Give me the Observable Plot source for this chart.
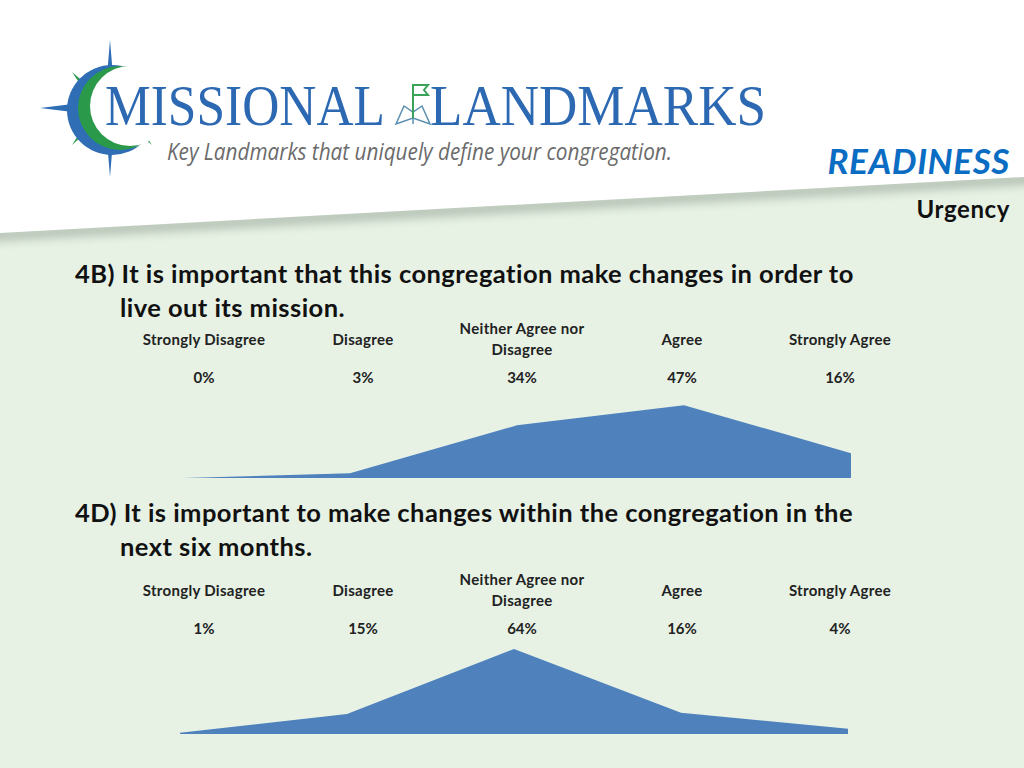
<!DOCTYPE html>
<html>
<head>
<meta charset="utf-8">
<script src="https://cdn.jsdelivr.net/npm/d3@7"></script>
<script src="https://cdn.jsdelivr.net/npm/@observablehq/plot@0.6"></script>
<style>
  html, body { margin: 0; padding: 0; }
  body { width: 1024px; height: 768px; position: relative; overflow: hidden; font-family: Lato, "Open Sans", sans-serif; background: #fff; }
  #bg { position: absolute; left: 0; top: 0; }
  .abs { position: absolute; }
  .q { position: absolute; left: 75px; width: 940px; font-weight: bold; font-size: 25.5px; letter-spacing: 0.45px; line-height: 34px; color: #111; white-space: nowrap; }
  .q .l2 { padding-left: 45px; display: block; }
  .lab { position: absolute; width: 180px; height: 44px; margin-left: -90px; display: flex; align-items: center; justify-content: center; text-align: center; font-weight: bold; font-size: 15px; letter-spacing: 0.3px; line-height: 21px; color: #222; }
  .pct { position: absolute; width: 100px; margin-left: -50px; text-align: center; font-weight: bold; font-size: 15px; line-height: 20px; color: #222; }
  .plotbox { position: absolute; left: 0; }
</style>
</head>
<body>
<svg id="bg" width="1024" height="768" viewBox="0 0 1024 768">
  <defs>
    <clipPath id="greenclip"><polygon points="0,233 1024,177 1024,768 0,768"/></clipPath>
    <filter id="blur" x="-10%" y="-200%" width="120%" height="500%"><feGaussianBlur stdDeviation="5"/></filter>
    <mask id="m1"><rect x="0" y="0" width="300" height="250" fill="#fff"/><circle cx="126" cy="107" r="41" fill="#000"/></mask>
    <mask id="m2"><rect x="0" y="0" width="300" height="250" fill="#fff"/><circle cx="130" cy="106" r="40" fill="#000"/></mask>
  </defs>
  <rect x="0" y="0" width="1024" height="768" fill="#ffffff"/>
  <polygon points="0,233 1024,177 1024,768 0,768" fill="#e7f2e5"/>
  <g clip-path="url(#greenclip)">
    <line x1="-20" y1="236" x2="1044" y2="178" stroke="#8f9c8f" stroke-width="12" opacity="0.55" filter="url(#blur)"/>
  </g>
  <!-- logo -->
  <g>
    <polygon points="110,40 115,100 125,108 115,116 110,177 105,116 40,108 105,100" fill="#2f6db5"/>
    <polygon points="72,72 100,96 92,102" fill="#2a9a4a"/>
    <polygon points="72,145 92,114 100,120" fill="#2a9a4a"/>
    <polygon points="152,145 128,124 134,118" fill="#2a9a4a"/>
    <circle cx="126" cy="107" r="41" fill="#ffffff"/>
    <circle cx="112" cy="110" r="45" fill="#2f6db5" mask="url(#m1)"/>
    <circle cx="120" cy="108" r="42" fill="#2a9a4a" mask="url(#m2)"/>
    <text x="105" y="125" font-family="Liberation Serif, DejaVu Serif, serif" font-size="56" fill="#2c69b2" textLength="280" lengthAdjust="spacingAndGlyphs">MISSIONAL</text>
    <text x="430" y="125" font-family="Liberation Serif, DejaVu Serif, serif" font-size="56" fill="#2c69b2" textLength="336" lengthAdjust="spacingAndGlyphs">LANDMARKS</text>
    <g stroke="#5a8fb0" stroke-width="1.5" fill="none">
      <path d="M396,124 L404,106 L413,112 L422,106 L430,124 L413,118 Z"/>
      <path d="M413,112 L413,124"/>
    </g>
    <g stroke="#3aa35a" stroke-width="2" fill="none">
      <path d="M413,118 L413,84"/>
      <path d="M413,85 L428,85 L424,90 L428,95 L413,95"/>
    </g>
    <text x="167" y="160" font-family="Open Sans, Lato, sans-serif" font-style="italic" font-size="23" fill="#6b6b6b" textLength="505" lengthAdjust="spacingAndGlyphs">Key Landmarks that uniquely define your congregation.</text>
  </g>
</svg>

<div class="abs" style="right:14px; top:139px; font-size:35px; letter-spacing:0.6px; font-weight:bold; font-style:italic; color:#0a6cc2; line-height:42px;">READINESS</div>
<div class="abs" style="right:14px; top:194px; font-size:24px; letter-spacing:0.6px; font-weight:bold; color:#111; line-height:30px;">Urgency</div>

<div id="root"></div>

<script>
// ---- data ----
const categories = ["Strongly Disagree", "Disagree", "Neither Agree nor Disagree", "Agree", "Strongly Agree"];
const categoryLabels = ["Strongly Disagree", "Disagree", "Neither Agree nor<br>Disagree", "Agree", "Strongly Agree"];
const q4bTitle = ["4B) It is important that this congregation make changes in order to", "live out its mission."];
const q4bValues = [0, 3, 34, 47, 16];
const q4bMax = 60;
const q4dTitle = ["4D) It is important to make changes within the congregation in the", "next six months."];
const q4dValues = [1, 15, 64, 16, 4];
const q4dMax = 70;

const root = document.getElementById("root");
const labelCenters = [204, 363, 522, 682, 840];

function panel(title, values, yMax, o) {
  const q = document.createElement("div");
  q.className = "q";
  q.style.top = o.titleTop + "px";
  q.innerHTML = `<span>${title[0]}</span><span class="l2">${title[1]}</span>`;
  root.appendChild(q);

  categories.forEach((c, i) => {
    const l = document.createElement("div");
    l.className = "lab";
    l.style.left = labelCenters[i] + "px";
    l.style.top = (o.labelY - 22) + "px";
    l.innerHTML = categoryLabels[i];
    root.appendChild(l);
    const p = document.createElement("div");
    p.className = "pct";
    p.style.left = labelCenters[i] + "px";
    p.style.top = (o.pctY - 10) + "px";
    p.textContent = values[i] + "%";
    root.appendChild(p);
  });

  const data = categories.map((c, i) => ({category: c, value: values[i]}));
  const chart = Plot.plot({
    width: 1024,
    height: 100,
    marginLeft: o.x0,
    marginRight: 1024 - o.x1,
    marginTop: 5,
    marginBottom: 2,
    style: {background: "transparent", overflow: "visible"},
    x: {type: "point", domain: categories, padding: 0, axis: null},
    y: {domain: [0, yMax], axis: null},
    marks: [
      Plot.areaY(data, {x: "category", y: "value", fill: "#4f81bd", curve: "linear"})
    ]
  });
  const box = document.createElement("div");
  box.className = "plotbox";
  box.style.top = o.plotTop + "px";
  box.appendChild(chart);
  root.appendChild(box);
}

panel(q4bTitle, q4bValues, q4bMax, {titleTop: 256, labelY: 339, pctY: 377, plotTop: 380, x0: 183, x1: 851});
panel(q4dTitle, q4dValues, q4dMax, {titleTop: 495, labelY: 590, pctY: 628, plotTop: 636, x0: 179, x1: 848});
</script>
</body>
</html>
